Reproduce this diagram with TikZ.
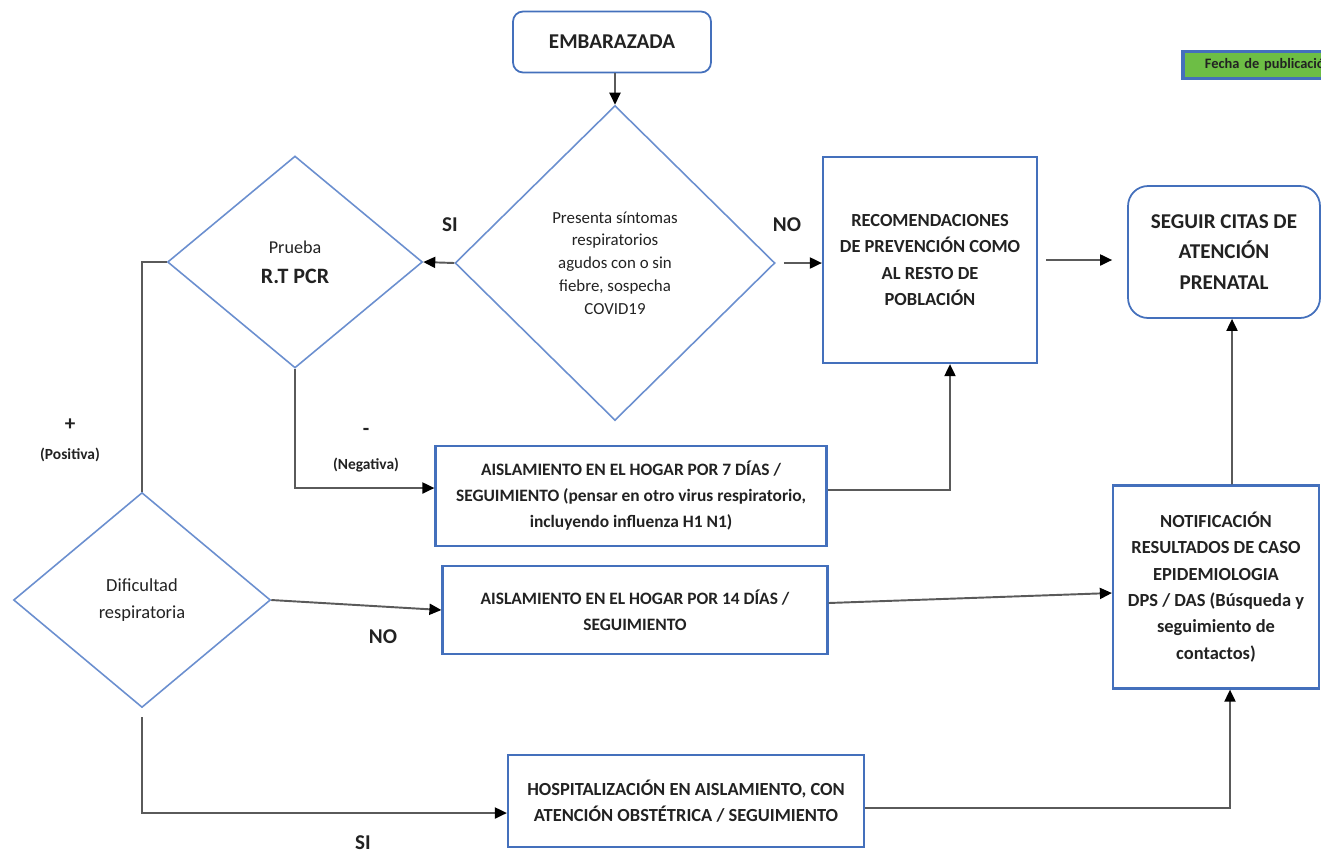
\documentclass[tikz,border=0pt]{standalone}
\usepackage{fontspec}
\setmainfont{Carlito}
\usepackage{tikz}
\usetikzlibrary{arrows.meta,shapes.geometric,calc}
\definecolor{boxblue}{HTML}{4470BC}
\definecolor{dblue}{HTML}{6B8FCF}
\definecolor{linegray}{HTML}{5A5A5A}
\definecolor{txt}{HTML}{222222}
\definecolor{pubgreen}{HTML}{6DBE45}

\tikzset{
  box/.style={draw=boxblue,line width=1.3pt,fill=white,align=center,text=txt,
    font=\bfseries\fontsize{10.5}{15}\selectfont,inner sep=2pt},
  rbox/.style={box,rounded corners=0.2cm,line width=1pt},
  decision/.style={diamond,draw=dblue,line width=0.9pt,align=center,text=txt,
    aspect=1,inner sep=0pt},
  conn/.style={draw=linegray,line width=1.1pt},
  arr/.style={conn,-{Triangle[length=0.24cm,width=0.22cm,color=black]}},
  lbl/.style={text=txt,font=\bfseries\fontsize{12}{14}\selectfont}
}

\begin{document}
\begin{tikzpicture}[x=0.02cm,y=-0.02cm]
  \useasboundingbox (0,0) rectangle (1321,853);

  % top of the chart
  \node[rbox,minimum width=3.96cm,minimum height=1.22cm,
    font=\bfseries\fontsize{12}{15}\selectfont] (emb) at (612,42) {EMBARAZADA};
  \node[decision,minimum width=6.4cm,minimum height=6.3cm,
    font=\fontsize{9.6}{13}\selectfont] (sint) at (615,263)
    {Presenta síntomas\\respiratorios\\agudos con o sin\\fiebre, sospecha\\COVID19};
  \node[decision,minimum width=5.1cm,minimum height=4.24cm,
    font=\fontsize{10.3}{17}\selectfont] (prueba) at (295,262)
    {Prueba\\{\bfseries\fontsize{12.5}{17}\selectfont R.T PCR}};
  \node[box,minimum width=4.28cm,minimum height=4.12cm] (recom) at (930,260)
    {RECOMENDACIONES\\DE PREVENCIÓN COMO\\AL RESTO DE\\POBLACIÓN};
  \node[rbox,rounded corners=0.4cm,minimum width=3.84cm,minimum height=2.64cm,
    font=\bfseries\fontsize{12}{17.5}\selectfont] (seguir) at (1224,252)
    {SEGUIR CITAS DE\\ATENCIÓN\\PRENATAL};

  % publication tag, cut by the page edge
  \node[draw=boxblue,line width=2.2pt,fill=pubgreen,anchor=west,
    minimum height=0.54cm,inner xsep=0.44cm,text width=3.6cm,align=left,
    font=\bfseries\fontsize{8.2}{9}\selectfont,text=txt] (fecha) at (1181,65)
    {Fecha de publicación};

  % middle and bottom rows
  \node[box,minimum width=7.82cm,minimum height=2.0cm,
    font=\bfseries\fontsize{9.9}{14.8}\selectfont] (aisl7) at (631,496)
    {AISLAMIENTO EN EL HOGAR POR 7 DÍAS /\\SEGUIMIENTO (pensar en otro virus respiratorio,\\incluyendo influenza H1 N1)};
  \node[decision,minimum width=5.14cm,minimum height=4.3cm,
    font=\fontsize{10.5}{15.5}\selectfont] (dif) at (142,600)
    {Dificultad\\respiratoria};
  \node[box,minimum width=7.7cm,minimum height=1.76cm,
    font=\bfseries\fontsize{9.9}{15}\selectfont] (aisl14) at (635,610)
    {AISLAMIENTO EN EL HOGAR POR 14 DÍAS /\\SEGUIMIENTO};
  \node[box,minimum width=4.12cm,minimum height=4.06cm] (notif) at (1216,587)
    {NOTIFICACIÓN\\RESULTADOS DE CASO\\EPIDEMIOLOGIA\\DPS / DAS (Búsqueda y\\seguimiento de\\contactos)};
  \node[box,minimum width=7.12cm,minimum height=1.84cm] (hosp) at (686,801)
    {HOSPITALIZACIÓN EN AISLAMIENTO, CON\\ATENCIÓN OBSTÉTRICA / SEGUIMIENTO};

  % connectors
  \draw[arr] (emb.south -| sint.north) -- (sint.north);
  \draw[arr] (sint.west) -- (prueba.east);
  \draw[arr,shorten <=0.16cm] (sint.east) -- (sint.east -| recom.west);
  \draw[arr,shorten <=0.16cm,shorten >=0.3cm] (recom.east) -- (recom.east -| seguir.west);
  \draw[conn] (prueba.west) -| (dif.north);
  \draw[arr] (prueba.south) |- ([yshift=0.16cm]aisl7.west);
  \draw[arr] ([yshift=0.12cm]aisl7.east) -| ([xshift=0.4cm]recom.south);
  \draw[arr] (dif.east) -- (aisl14.west);
  \draw[arr,shorten <=0.18cm] (dif.south) |- ([yshift=-0.24cm]hosp.west);
  \draw[arr] ([yshift=0.14cm]aisl14.east) -- ([yshift=-0.12cm]notif.west);
  \draw[arr] ([yshift=-0.14cm]hosp.east) -| ([xshift=0.28cm]notif.south);
  \draw[arr] ([xshift=0.32cm]notif.north) -- ([xshift=0.16cm]seguir.south);

  % branch labels
  \node[lbl] (si1) at (450,225) {SI};
  \node[lbl] (no1) at (787,225) {NO};
  \node[lbl] (pos) at (70,425) {+};
  \node[lbl,font=\bfseries\fontsize{8.8}{10}\selectfont] (posl) at (70,455) {(Positiva)};
  \node[lbl] (neg) at (366,432) {-};
  \node[lbl,font=\bfseries\fontsize{8.8}{10}\selectfont] (negl) at (366,465) {(Negativa)};
  \node[lbl] (no2) at (383,637) {NO};
  \node[lbl] (si2) at (363,843) {SI};
\end{tikzpicture}
\end{document}
